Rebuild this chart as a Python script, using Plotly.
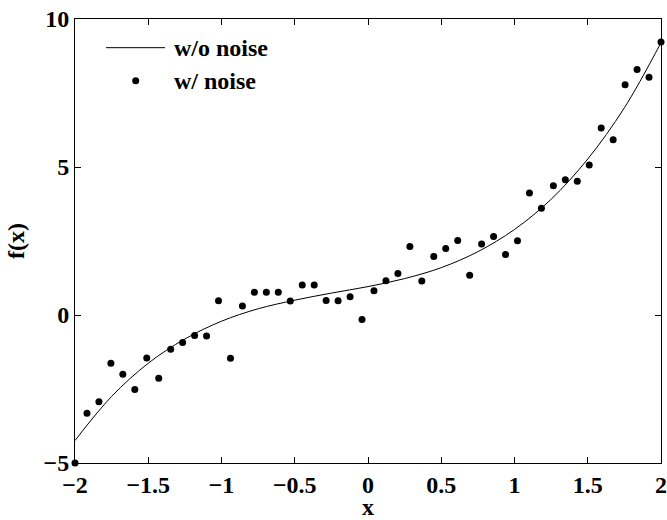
import plotly.graph_objects as go

# Noisy samples (50 points on [-2, 2])
x_noise = [-2.0, -1.9184, -1.8367, -1.7551, -1.6735, -1.5918, -1.5102, -1.4286,
           -1.3469, -1.2653, -1.1837, -1.102, -1.0204, -0.9388, -0.8571, -0.7755,
           -0.6939, -0.6122, -0.5306, -0.449, -0.3673, -0.2857, -0.2041, -0.1224,
           -0.0408, 0.0408, 0.1224, 0.2041, 0.2857, 0.3673, 0.449, 0.5306,
           0.6122, 0.6939, 0.7755, 0.8571, 0.9388, 1.0204, 1.102, 1.1837,
           1.2653, 1.3469, 1.4286, 1.5102, 1.5918, 1.6735, 1.7551, 1.8367,
           1.9184, 2.0]
y_noise = [-5.0, -3.32, -2.93, -1.63, -2.00, -2.52, -1.45, -2.14,
           -1.16, -0.93, -0.69, -0.71, 0.48, -1.46, 0.30, 0.77,
           0.77, 0.77, 0.47, 1.01, 1.01, 0.49, 0.48, 0.62,
           -0.15, 0.82, 1.16, 1.40, 2.31, 1.15, 1.98, 2.25,
           2.52, 1.34, 2.40, 2.65, 2.04, 2.51, 4.12, 3.61,
           4.37, 4.57, 4.52, 5.07, 6.32, 5.92, 7.78, 8.29,
           8.03, 9.22]

# Noise-free curve, read at steps of 0.25
x_curve = [-2.0, -1.75, -1.5, -1.25, -1.0, -0.75, -0.5, -0.25, 0.0,
           0.25, 0.5, 0.75, 1.0, 1.25, 1.5, 1.75, 2.0]
y_curve = [-4.24, -2.75, -1.63, -0.81, -0.21, 0.21, 0.50, 0.74, 0.96,
           1.23, 1.60, 2.14, 2.89, 3.91, 5.27, 7.00, 9.20]

x_ticks = [-2, -1.5, -1, -0.5, 0, 0.5, 1, 1.5, 2]
y_ticks = [-5, 0, 5, 10]

legend_labels = ["w/o noise", "w/ noise"]

FONT = "Liberation Serif, Times New Roman, serif"
tfont = dict(family=FONT, size=24, color="black", weight="bold")

fig = go.Figure()
fig.add_trace(go.Scatter(x=x_curve, y=y_curve, mode="lines",
                         line=dict(color="black", width=1, shape="spline", smoothing=1.0),
                         name=legend_labels[0], showlegend=False, cliponaxis=False))
fig.add_trace(go.Scatter(x=x_noise, y=y_noise, mode="markers",
                         marker=dict(color="black", size=7, symbol="circle"),
                         name=legend_labels[1], showlegend=False, cliponaxis=False))

axis_common = dict(showline=True, linecolor="black", linewidth=1, mirror="ticks",
                   ticks="inside", ticklen=6, tickwidth=1, tickcolor="black",
                   showgrid=False, zeroline=False, tickfont=tfont)

fig.update_xaxes(range=[-2, 2], tickvals=x_ticks,
                 title=dict(text="x", font=tfont, standoff=4),
                 **axis_common)
fig.update_yaxes(range=[-5, 10], tickvals=y_ticks,
                 title=dict(text="f(x)", font=tfont, standoff=12),
                 **axis_common)

# Manual legend (MATLAB style, no box)
fig.add_shape(type="line", xref="paper", yref="paper",
              x0=0.0529, x1=0.1536, y0=0.9354, y1=0.9354,
              line=dict(color="black", width=1))
fig.add_shape(type="circle", xref="paper", yref="paper",
              x0=0.1036 - 3.5 / 586, x1=0.1036 + 3.5 / 586,
              y0=0.861 - 3.5 / 444, y1=0.861 + 3.5 / 444,
              fillcolor="black", line=dict(color="black", width=0))
for lab, yy in zip(legend_labels, [0.9354, 0.861]):
    fig.add_annotation(xref="paper", yref="paper", x=0.165, y=yy,
                       text=lab, showarrow=False,
                       xanchor="left", yanchor="middle", font=tfont)

fig.update_layout(width=667, height=520,
                  margin=dict(l=75, r=6, t=19, b=57, autoexpand=False),
                  paper_bgcolor="white", plot_bgcolor="white",
                  font=dict(family=FONT, size=24, color="black"))

fig.write_html("out.html", config={"displayModeBar": False},
               post_script="document.body.style.margin='0px';")
